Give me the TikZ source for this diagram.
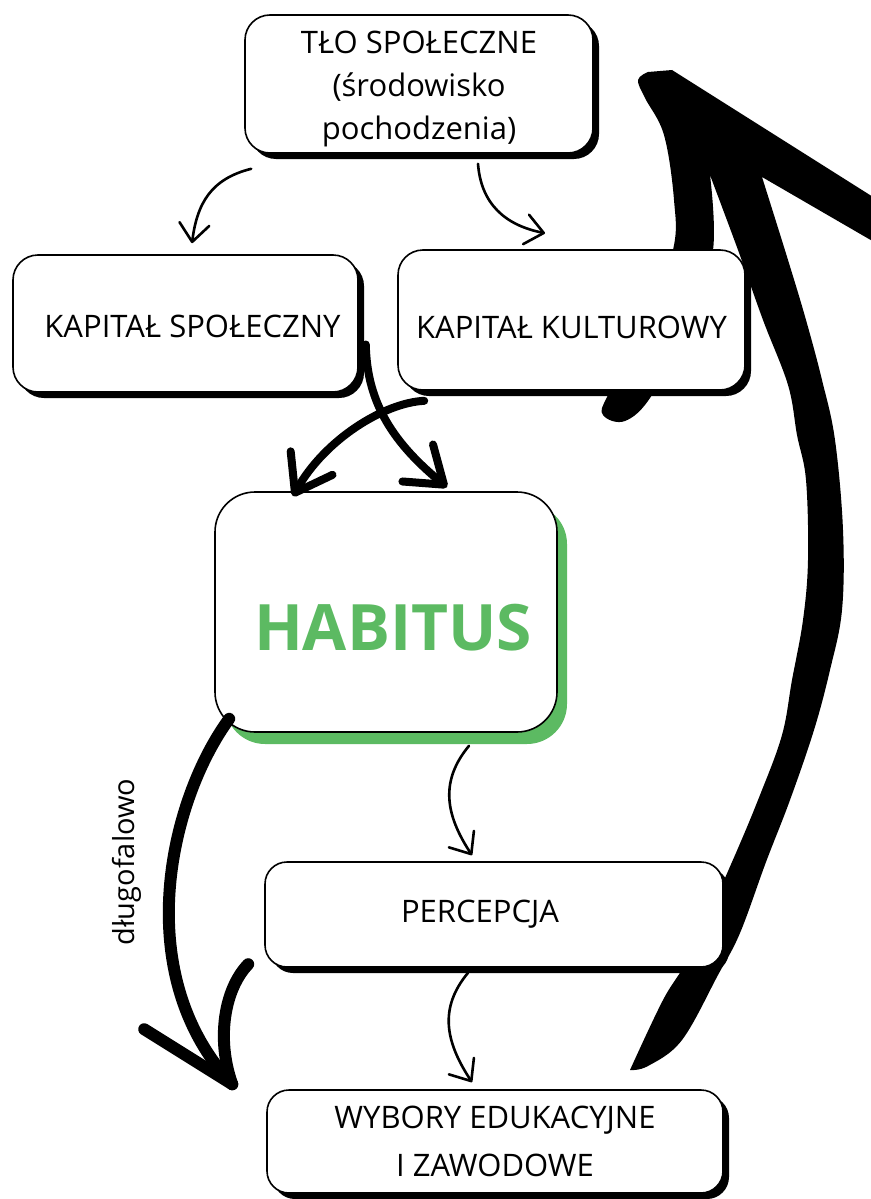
\documentclass[tikz,border=0pt]{standalone}
\usepackage{fontspec}
\setmainfont{Open Sans}
\usetikzlibrary{arrows.meta,shadows,backgrounds}
\definecolor{habgreen}{RGB}{92,186,98}

\begin{document}
\begin{tikzpicture}[x=1pt,y=-1pt,
    boxbase/.style={draw,line width=1.6pt,fill=white,rounded corners=25pt,
      inner sep=0pt,align=center,font=\fontsize{31}{41}\selectfont},
    box/.style={boxbase,drop shadow={shadow xshift=6pt,shadow yshift=-6pt,opacity=1,fill=black}},
    habbox/.style={boxbase,rounded corners=40pt,
      drop shadow={shadow xshift=10pt,shadow yshift=-12pt,opacity=1,fill=habgreen}},
    boxtext/.style={font=\fontsize{31}{43}\selectfont,align=center},
    habtext/.style={font=\fontsize{64}{70}\selectfont\bfseries,text=habgreen},
    thin arrow/.style={line width=2.6pt,line cap=round,
      -{Straight Barb[length=18pt,width=30pt,round]}},
    thick arrow/.style={line width=8pt,line cap=round,
      -{Straight Barb[length=34pt,width=48pt,round]}},
    heavy/.style={line width=12pt,line cap=round}]
  \useasboundingbox (0,0) rectangle (870,1199);

  % boxes
  \node (tlo) [box,minimum width=348pt,minimum height=138pt] at (419,84)
    [label={[boxtext,yshift=-5pt]center:TŁO SPOŁECZNE\\(środowisko\\pochodzenia)}] {};
  \node (kspol) [box,minimum width=345pt,minimum height=137pt] at (185.5,323.5)
    [label={[boxtext,xshift=7pt,yshift=-3pt]center:KAPITAŁ SPOŁECZNY}] {};
  \node (kkult) [box,minimum width=347pt,minimum height=140pt] at (571.5,320)
    [label={[boxtext,yshift=-7pt]center:KAPITAŁ KULTUROWY}] {};
  \node (habitus) [habbox,minimum width=342pt,minimum height=240pt] at (386,612)
    [label={[habtext,xshift=7pt,yshift=-16pt]center:HABITUS}] {};
  \node (percepcja) [box,rounded corners=22pt,minimum width=458pt,minimum height=105pt] at (494,914.5)
    [label={[boxtext,xshift=-14pt]center:PERCEPCJA}] {};
  \node (wybory) [box,rounded corners=22pt,minimum width=456pt,minimum height=103pt] at (495,1141.5)
    [font=\fontsize{31}{48}\selectfont] {WYBORY EDUKACYJNE\\I ZAWODOWE};

  % big feedback arrow, behind the boxes
  \coordinate (tail) at ([shift={(-93,-20)}]wybory.north east);
  \begin{scope}[on background layer]
    \fill (tail) -- plot[smooth,tension=.6] coordinates {(630,1070) (663,1000) (690,955) (732,862)
        (760,795) (782,735) (792,680) (803,620) (808,560) (806,480) (797,435) (788,385)
        (763,320) (738,250) (710,175)}
      -- plot[smooth,tension=.6] coordinates {(710,175) (713,250) (690,320) (652,395) (625,421)
        (603,415) (608,395) (645,330) (673,250) (674,200) (664,135) (645,98) (638,80) (648,72)}
      -- (672,70) -- (900,214) -- (900,257) -- (762,177)
      -- plot[smooth,tension=.6] coordinates {(762,177) (788,260) (806,320) (822,380) (835,440)
        (843,530) (842,610) (830,670) (814,730) (790,800) (766,862) (740,933) (718,975)
        (682,1040) (648,1066) (630,1070)}
      -- cycle;
  \end{scope}

  % thin arrows
  \draw[thin arrow] ([shift={(7,15)}]tlo.south west) .. controls +(-40,10) and +(5,-40) .. ([shift={(6.5,-11)}]kspol.north);
  \draw[thin arrow] ([shift={(59,10)}]tlo.south) .. controls +(3,40) and +(-40,-8) .. ([shift={(-26.5,-16)}]kkult.north);
  \draw[thin arrow] ([shift={(83,13)}]habitus.south) .. controls +(-29,35) and +(-27,-41) .. ([shift={(-22,-6)}]percepcja.north);
  \draw[thin arrow] ([shift={(-26,5)}]percepcja.south) .. controls +(-29,35) and +(-27,-41) .. ([shift={(-23,-7)}]wybory.north);

  % thick arrows into habitus
  \draw[thick arrow] ([shift={(7,21)}]kspol.east) .. controls +(1,60) and +(-52,-43) .. ([shift={(61,-4)}]habitus.north);
  \draw[thick arrow] ([shift={(27,10)}]kkult.south west) .. controls +(-40,2) and +(32,-57) .. ([shift={(-93,5)}]habitus.north);

  % long-term arrow
  \coordinate (tipC) at ([shift={(-34,-5)}]wybory.north west);
  \coordinate (lbarb) at ([shift={(-88,-55)}]tipC);
  \coordinate (rbarb) at ([shift={(16,-120)}]tipC);
  \draw[heavy] ([shift={(15,-14)}]habitus.south west) .. controls +(-60,82) and +(-103,-110) .. (tipC);
  \draw[heavy] (tipC) -- (lbarb);
  \draw[heavy] (tipC) .. controls +(-16,-45) and +(-24,25) .. (rbarb);
  \node (dlugo) [rotate=90,font=\fontsize{29}{35}\selectfont] at (127,862) {długofalowo};
\end{tikzpicture}
\end{document}
